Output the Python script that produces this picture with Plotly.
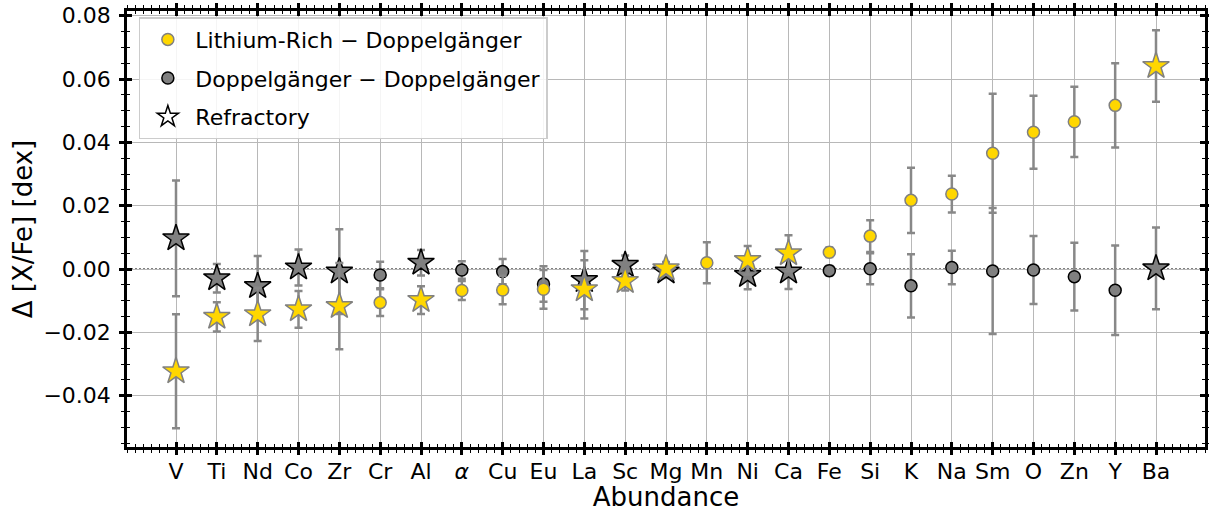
import plotly.graph_objects as go

categories = ["V", "Ti", "Nd", "Co", "Zr", "Cr", "Al", "alpha", "Cu", "Eu", "La", "Sc", "Mg",
              "Mn", "Ni", "Ca", "Fe", "Si", "K", "Na", "Sm", "O", "Zn", "Y", "Ba"]
tick_labels = ["V", "Ti", "Nd", "Co", "Zr", "Cr", "Al", "<i>α</i>", "Cu", "Eu", "La", "Sc", "Mg",
               "Mn", "Ni", "Ca", "Fe", "Si", "K", "Na", "Sm", "O", "Zn", "Y", "Ba"]
refractory = [True, True, True, True, True, False, True, False, False, False, True, True, True,
              False, True, True, False, False, False, False, False, False, False, False, True]

li_vals = [-0.0323, -0.0151, -0.0143, -0.0127, -0.0117, -0.0106, -0.0098, -0.0068, -0.0066, -0.0064,
           -0.0064, -0.0038, 0.0002, 0.0020, 0.0028, 0.0050, 0.0053, 0.0104, 0.0217, 0.0237,
           0.0366, 0.0432, 0.0465, 0.0517, 0.0641]
li_errs = [0.0180, 0.0046, 0.0084, 0.0058, 0.0136, 0.0042, 0.0044, 0.0030, 0.0045, 0.0061,
           0.0092, 0.0030, 0.0020, 0.0065, 0.0045, 0.0057, 0.0015, 0.0050, 0.0103, 0.0058,
           0.0188, 0.0115, 0.0111, 0.0133, 0.0113]
dd_vals = [0.0097, -0.0029, -0.0054, 0.0005, -0.0008, -0.0019, 0.0020, -0.0003, -0.0008, -0.0047,
           -0.0035, 0.0013, -0.0008, None, -0.0019, -0.0008, -0.0005, 0.0001, -0.0053, 0.0005,
           -0.0006, -0.0003, -0.0024, -0.0067, 0.0002]
dd_errs = [0.0183, 0.0045, 0.0095, 0.0057, 0.0134, 0.0042, 0.0040, 0.0028, 0.0040, 0.0056,
           0.0092, 0.0030, 0.0020, None, 0.0045, 0.0055, 0.0015, 0.0049, 0.0100, 0.0053,
           0.0199, 0.0107, 0.0107, 0.0141, 0.0129]

GOLD = "#FFD700"
GRAY = "#808080"
ERR = "#888888"
FONT = "DejaVu Sans"


def subset(vals, errs, want_ref):
    xs, ys, es = [], [], []
    for i, (v, e, r) in enumerate(zip(vals, errs, refractory)):
        if r == want_ref and v is not None:
            xs.append(i)
            ys.append(v)
            es.append(e)
    return xs, ys, es


def trace(vals, errs, want_ref, fill, edge, name, show, rank):
    xs, ys, es = subset(vals, errs, want_ref)
    return go.Scatter(
        x=xs, y=ys, mode="markers", name=name, showlegend=show, legendrank=rank,
        legendgroup=name,
        marker=dict(symbol="star" if want_ref else "circle", size=20 if want_ref else 12,
                    color=fill, line=dict(color=edge, width=1.5)),
        error_y=dict(type="data", array=es, visible=True, color=ERR, thickness=2.5, width=4),
    )


fig = go.Figure()
fig.add_trace(trace(dd_vals, dd_errs, False, GRAY, "black", "Doppelgänger − Doppelgänger", True, 2))
fig.add_trace(trace(dd_vals, dd_errs, True, GRAY, "black", "dd_ref", False, 10))
fig.add_trace(trace(li_vals, li_errs, False, GOLD, GRAY, "Lithium-Rich − Doppelgänger", True, 1))
fig.add_trace(trace(li_vals, li_errs, True, GOLD, GRAY, "li_ref", False, 11))
fig.add_trace(go.Scatter(x=[None], y=[None], mode="markers", name="Refractory", legendrank=3,
                         legendgroup="Refractory",
                         marker=dict(symbol="star", size=20, color="white",
                                     line=dict(color="black", width=1.5))))
# empty trace to activate overlay axes (inside ticks)
fig.add_trace(go.Scatter(x=[], y=[], xaxis="x2", yaxis="y2", showlegend=False, hoverinfo="skip"))

fig.add_hline(y=0, line=dict(color="black", width=1.2, dash="2px,2px"), layer="below")

xr = [-1.2, 25.2]
yr = [-0.0562, 0.0815]
idx = list(range(len(categories)))

common_x = dict(range=xr, tickmode="array", tickvals=idx, tickcolor="black", tickwidth=2.5,
                showline=True, linecolor="black", linewidth=2.5, mirror="ticks", zeroline=False)
common_y = dict(range=yr, tickmode="linear", tick0=0, dtick=0.02, tickcolor="black", tickwidth=2.5,
                showline=True, linecolor="black", linewidth=2.5, mirror="ticks", zeroline=False)
minor_x = dict(tickmode="linear", tick0=0, dtick=0.2, ticklen=3, tickwidth=1.3,
               tickcolor="black", showgrid=False)
minor_y = dict(tickmode="linear", tick0=0, dtick=0.005, ticklen=3, tickwidth=1.3,
               tickcolor="black", showgrid=False)

fig.update_layout(
    width=1209, height=512,
    margin=dict(l=127, r=4, t=11, b=65, autoexpand=False),
    paper_bgcolor="white", plot_bgcolor="white",
    font=dict(family=FONT, size=22, color="black"),
    xaxis=dict(**common_x, ticks="outside", ticklen=5, ticktext=tick_labels,
               showgrid=True, gridcolor="#b8b8b8", gridwidth=1.2,
               minor=dict(**minor_x, ticks="outside"),
               tickfont=dict(size=22), ticklabelstandoff=-2,
               title=dict(text="Abundance", font=dict(size=26), standoff=14)),
    yaxis=dict(**common_y, ticks="outside", ticklen=5, tickformat=".2f",
               showgrid=True, gridcolor="#b8b8b8", gridwidth=1.2,
               minor=dict(**minor_y, ticks="outside"),
               tickfont=dict(size=22), ticklabelstandoff=4,
               title=dict(text="Δ [X/Fe] [dex]", font=dict(size=26), standoff=4)),
    xaxis2=dict(**common_x, overlaying="x", anchor="y2", side="bottom", ticks="inside", ticklen=5,
                showticklabels=False, showgrid=False, minor=dict(**minor_x, ticks="inside")),
    yaxis2=dict(**common_y, overlaying="y", anchor="x2", side="left", ticks="inside", ticklen=5,
                showticklabels=False, showgrid=False, minor=dict(**minor_y, ticks="inside")),
    legend=dict(x=0.011, y=0.986, xanchor="left", yanchor="top",
                bgcolor="rgba(255,255,255,0.85)", bordercolor="#cccccc", borderwidth=1.5,
                font=dict(size=22), itemwidth=45, tracegroupgap=7, traceorder="grouped"),
    showlegend=True,
)

fig.write_html("out.html", config={"displayModeBar": False},
               post_script="document.body.style.margin='0px';")
